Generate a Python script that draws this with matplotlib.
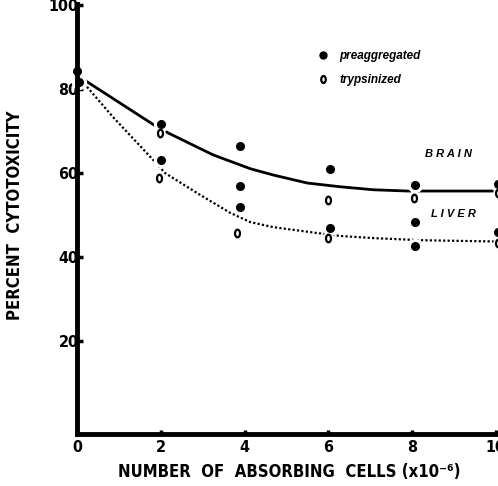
import matplotlib
matplotlib.use("Agg")
import matplotlib.pyplot as plt
from matplotlib.path import Path
from matplotlib.lines import Line2D

# measured points (x = number of absorbing cells x10^-6, y = percent cytotoxicity)
pre_x = [0.0, 0.05, 2.0, 2.0, 3.88, 3.88, 3.88, 6.03, 6.03, 8.06, 8.06, 8.06, 10.05, 10.05]
pre_y = [84.3, 81.7, 71.7, 63.1, 66.4, 56.9, 51.9, 61.0, 46.9, 57.1, 48.3, 42.6, 57.4, 46.0]

try_x = [1.98, 1.95, 3.83, 6.0, 6.0, 8.04, 10.05, 10.05]
try_y = [69.5, 58.8, 45.7, 53.6, 44.5, 54.0, 55.2, 43.3]

# fitted curves
brain_x = [0.1, 1.84, 2.18, 3.25, 4.14, 4.69, 5.5, 6.3, 7.08, 7.9, 8.6, 10.0]
brain_y = [82.6, 71.4, 69.5, 64.3, 61.0, 59.5, 57.6, 56.7, 56.0, 55.7, 55.7, 55.7]

liver_x = [0.1, 0.86, 1.8, 2.1, 2.87, 3.66, 4.14, 4.69, 5.74, 6.3, 7.08, 8.2, 10.0]
liver_y = [82.1, 73.3, 63.3, 60.0, 55.2, 50.5, 48.3, 47.1, 45.7, 45.0, 44.5, 44.0, 43.7]

x_ticks = [0, 2, 4, 6, 8, 10]
y_ticks = [20, 40, 60, 80, 100]

FONT = dict(family="DejaVu Sans", stretch="condensed", weight="bold")

# open "0" marker: tall ellipse
circ = Path.unit_circle()
oval = Path(circ.vertices * [0.65, 1.0], circ.codes)

fig = plt.figure(figsize=(4.98, 4.86), dpi=100)
ax = fig.add_axes([0.1546, 0.107, 0.8454, 0.8848])

ax.plot(brain_x, brain_y, color="black", lw=2.0, solid_capstyle="butt", zorder=2)
ax.plot(liver_x, liver_y, color="black", lw=1.6, linestyle=(0, (1, 1)), zorder=2)

# white halos break the curves around the points (kept under the spines)
ax.plot(pre_x, pre_y, "o", color="white", ms=10, zorder=2.2, clip_on=False)
ax.plot(try_x, try_y, marker=oval, ls="none", color="white", ms=10, zorder=2.2, clip_on=False)

ax.plot(pre_x, pre_y, "o", color="black", ms=5.5, zorder=4, clip_on=False)
ax.plot(try_x, try_y, marker=oval, ls="none", mfc="white", mec="black", mew=1.6,
        ms=5.5, zorder=4, clip_on=False)

ax.set_xlim(0, 10.05)
ax.set_ylim(-2.1, 100.2)
ax.set_xticks(x_ticks)
ax.set_yticks(y_ticks)
ax.set_xticklabels([str(v) for v in x_ticks], fontsize=11.5, **FONT)
ax.set_yticklabels([str(v) for v in y_ticks], fontsize=11.5, **FONT)
ax.tick_params(axis="y", direction="in", length=4, width=2.5, pad=-1)
ax.tick_params(axis="x", direction="in", length=3, width=2.5, pad=4)

for side in ["top", "right"]:
    ax.spines[side].set_visible(False)
for side in ["left", "bottom"]:
    ax.spines[side].set_linewidth(3.5)

fig.text(0.581, 0.029, "NUMBER  OF  ABSORBING  CELLS (x10\u207b\u2076)",
         fontsize=12, ha="center", va="center", **FONT)
fig.text(0.031, 0.558, "PERCENT  CYTOTOXICITY", fontsize=12,
         rotation=90, ha="center", va="center", **FONT)

ax.text(8.3, 64.6, "B R A I N", family="Liberation Sans", style="italic",
        weight="bold", fontsize=8, ha="left", va="center")
ax.text(8.45, 50.2, "L I V E R", family="Liberation Sans", style="italic",
        weight="bold", fontsize=8, ha="left", va="center")

handles = [
    Line2D([], [], ls="none", marker="o", color="black", ms=5),
    Line2D([], [], ls="none", marker=oval, mfc="white", mec="black", mew=1.6, ms=5),
]
ax.legend(handles, ["preaggregated", "trypsinized"], loc="upper left",
          bbox_to_anchor=(0.545, 0.918), frameon=False, handlelength=1.0,
          handletextpad=0.9, labelspacing=1.0,
          prop={"family": "Liberation Sans", "style": "italic", "weight": "bold", "size": 8.5})

fig.savefig("out.png", dpi=100)
